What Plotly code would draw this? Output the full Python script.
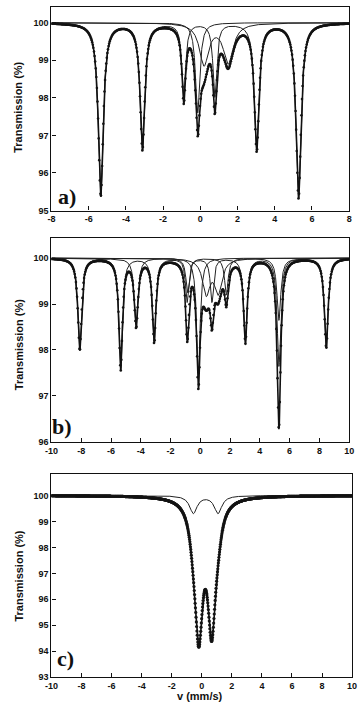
import numpy as np
import plotly.graph_objects as go

# ---------------- data ----------------
# Panel a) : sextet + singlet + doublet   (velocity mm/s, depth %, half width mm/s)
A_SEXTET_POS = [-5.35, -3.11, -0.89, 0.78, 3.03, 5.28]
A_SEXTET_DEPTH = [4.60, 3.35, 1.95, 1.95, 3.35, 4.65]
A_SEXTET_HW = [0.16, 0.15, 0.12, 0.12, 0.15, 0.16]
A_SINGLET_POS = [-0.14]
A_SINGLET_DEPTH = [2.40]
A_SINGLET_HW = [0.14]
A_DOUBLET_POS = [0.20, 1.50]
A_DOUBLET_DEPTH = [1.10, 1.05]
A_DOUBLET_HW = [0.30, 0.32]

# Panel b) : two sextets + singlet + doublet
B_SEXTET1_POS = [-5.35, -3.10, -0.89, 0.78, 3.03, 5.28]
B_SEXTET1_DEPTH = [2.40, 1.80, 0.95, 0.95, 1.80, 2.35]
B_SEXTET1_HW = [0.14, 0.14, 0.13, 0.13, 0.14, 0.14]
B_SEXTET2_POS = [-8.10, -4.31, -0.85, 1.75, 5.28, 8.46]
B_SEXTET2_DEPTH = [2.00, 1.45, 0.75, 0.80, 1.35, 1.95]
B_SEXTET2_HW = [0.15, 0.15, 0.14, 0.14, 0.15, 0.15]
B_SINGLET_POS = [-0.13]
B_SINGLET_DEPTH = [2.55]
B_SINGLET_HW = [0.14]
B_DOUBLET_POS = [0.40, 1.20]
B_DOUBLET_DEPTH = [0.75, 0.72]
B_DOUBLET_HW = [0.30, 0.30]

# Panel c) : main doublet + weak doublet
C_MAIN_POS = [-0.20, 0.66]
C_MAIN_DEPTH = [4.95, 4.75]
C_MAIN_HW = [0.32, 0.32]
C_WEAK_POS = [-0.56, 1.08]
C_WEAK_DEPTH = [0.68, 0.68]
C_WEAK_HW = [0.30, 0.30]

# axes / ticks
A_XRANGE = [-8, 8]
BC_XRANGE = [-10, 10]
A_YTICKS = [95, 96, 97, 98, 99, 100]
B_YTICKS = [96, 97, 98, 99, 100]
C_YTICKS = [93, 94, 95, 96, 97, 98, 99, 100]
A_XTICKS = [-8, -6, -4, -2, 0, 2, 4, 6, 8]
BC_XTICKS = [-10, -8, -6, -4, -2, 0, 2, 4, 6, 8, 10]
PANEL_LABELS = ["a)", "b)", "c)"]
Y_TITLE = "Transmission (%)"
X_TITLE = "v (mm/s)"


def absorb(v, pos, depth, hw):
    out = np.zeros_like(v)
    for p, d, w in zip(pos, depth, hw):
        out += d / (1.0 + ((v - p) / w) ** 2)
    return out


fig = go.Figure()

FIT = dict(color="#111", width=1.6)
COMP = dict(color="#222", width=1.0)


def panel(xr, comps, drawn, xa, ya, npts, msize):
    vfine = np.linspace(xr[0], xr[1], 2000)
    vdat = np.linspace(xr[0], xr[1], npts)
    tot_f = np.zeros_like(vfine)
    tot_d = np.zeros_like(vdat)
    for (pos, dep, hw), show in zip(comps, drawn):
        a = absorb(vfine, pos, dep, hw)
        tot_f += a
        tot_d += absorb(vdat, pos, dep, hw)
        if show:
            fig.add_trace(go.Scatter(x=vfine, y=100 - a, mode="lines", line=COMP,
                                     xaxis=xa, yaxis=ya, showlegend=False, hoverinfo="skip"))
    fig.add_trace(go.Scatter(x=vdat, y=100 - tot_d, mode="markers",
                             marker=dict(color="#1a1a1a", size=msize),
                             xaxis=xa, yaxis=ya, showlegend=False))
    fig.add_trace(go.Scatter(x=vfine, y=100 - tot_f, mode="lines", line=FIT,
                             xaxis=xa, yaxis=ya, showlegend=False))


panel(A_XRANGE, [(A_SEXTET_POS, A_SEXTET_DEPTH, A_SEXTET_HW),
                 (A_SINGLET_POS, A_SINGLET_DEPTH, A_SINGLET_HW),
                 (A_DOUBLET_POS, A_DOUBLET_DEPTH, A_DOUBLET_HW)],
      [True, True, True], "x", "y", 512, 2.6)
panel(BC_XRANGE, [(B_SEXTET1_POS, B_SEXTET1_DEPTH, B_SEXTET1_HW),
                  (B_SEXTET2_POS, B_SEXTET2_DEPTH, B_SEXTET2_HW),
                  (B_SINGLET_POS, B_SINGLET_DEPTH, B_SINGLET_HW),
                  (B_DOUBLET_POS, B_DOUBLET_DEPTH, B_DOUBLET_HW)],
      [True, True, True, True], "x2", "y2", 512, 2.6)
panel(BC_XRANGE, [(C_MAIN_POS, C_MAIN_DEPTH, C_MAIN_HW),
                  (C_WEAK_POS, C_WEAK_DEPTH, C_WEAK_HW)],
      [False, True], "x3", "y3", 1024, 3.2)

W, H = 359, 716


def ydom(top, bot):
    return [1 - bot / H, 1 - top / H]


TICKF = dict(family="Liberation Sans", size=9, color="#111")
ax_common = dict(showline=True, linecolor="#111", linewidth=1.3, mirror=True,
                 ticks="inside", ticklen=4, tickcolor="#111", tickwidth=1.2,
                 showgrid=False, zeroline=False, tickfont=TICKF)

xdom_ab = [46 / W, 354 / W]
xdom_c = [46 / W, 357 / W]


def bold(vals):
    return [f"<b>{t}</b>" for t in vals]


fig.update_layout(
    width=W, height=H, margin=dict(l=0, r=0, t=0, b=0),
    paper_bgcolor="white", plot_bgcolor="white",
    xaxis=dict(domain=xdom_ab, range=A_XRANGE, tickvals=A_XTICKS,
               ticktext=bold(A_XTICKS), anchor="y", **ax_common),
    yaxis=dict(domain=ydom(7, 212), range=[95, 100.42], tickvals=A_YTICKS,
               ticktext=bold(A_YTICKS), anchor="x", **ax_common),
    xaxis2=dict(domain=xdom_ab, range=BC_XRANGE, tickvals=BC_XTICKS,
                ticktext=bold(BC_XTICKS), anchor="y2", **ax_common),
    yaxis2=dict(domain=ydom(240, 445), range=[96, 100.43], tickvals=B_YTICKS,
                ticktext=bold(B_YTICKS), anchor="x2", **ax_common),
    xaxis3=dict(domain=xdom_c, range=BC_XRANGE, tickvals=BC_XTICKS,
                ticktext=bold(BC_XTICKS), anchor="y3", **ax_common),
    yaxis3=dict(domain=ydom(477, 682), range=[93, 100.84], tickvals=C_YTICKS,
                ticktext=bold(C_YTICKS), anchor="x3", **ax_common),
)

annots = []
for ycen in (108, 347, 580):
    annots.append(dict(text=f"<b>{Y_TITLE}</b>", x=12 / W, y=1 - ycen / H,
                       xref="paper", yref="paper", xanchor="center", yanchor="middle",
                       textangle=-90, showarrow=False,
                       font=dict(family="Liberation Sans", size=11, color="#111")))
for lab, (xc, yc) in zip(PANEL_LABELS, [(62, 198), (57, 430), (61, 663)]):
    annots.append(dict(text=f"<b>{lab}</b>", x=xc / W, y=1 - yc / H,
                       xref="paper", yref="paper", xanchor="center", yanchor="middle",
                       showarrow=False, font=dict(family="Liberation Serif", size=22, color="#111")))
annots.append(dict(text=f"<b>{X_TITLE}</b>", x=200 / W, y=1 - 701 / H,
                   xref="paper", yref="paper", xanchor="center", yanchor="middle",
                   showarrow=False, font=dict(family="Liberation Sans", size=11, color="#111")))
fig.update_layout(annotations=annots)

fig.write_html("out.html")
